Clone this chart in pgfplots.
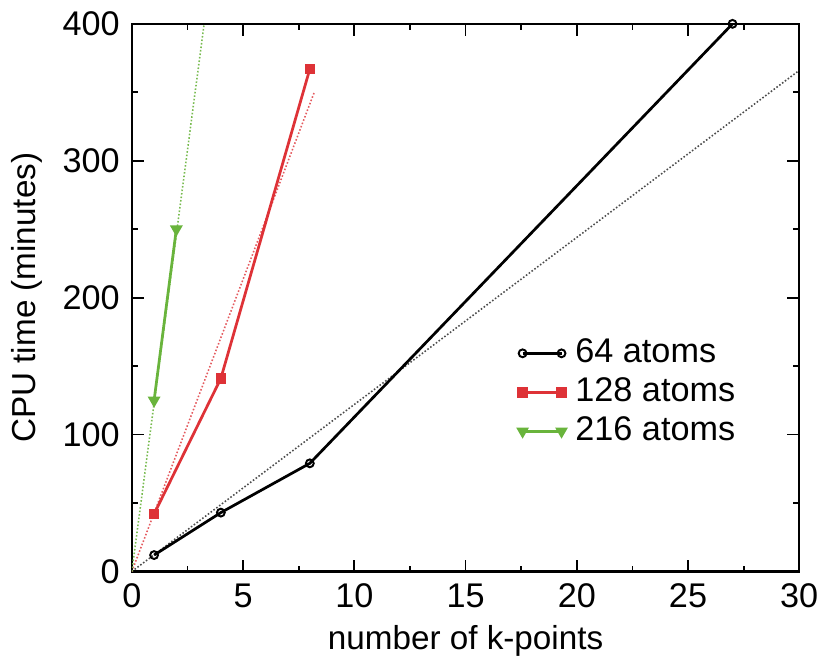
\documentclass[border=0pt]{standalone}
\usepackage{pgfplots}
\pgfplotsset{compat=1.18}
\usepackage{fontspec}
\setmainfont{Liberation Sans}
\definecolor{gred}{RGB}{222,50,55}
\definecolor{ggreen}{RGB}{105,180,60}
\begin{document}
\fontsize{18}{20}\selectfont
\begin{tikzpicture}
\begin{axis}[
  scale only axis,
  width=340bp, height=279bp,
  xmin=0, xmax=30, ymin=0, ymax=400,
  xtick={0,5,...,30}, ytick={0,100,...,400},
  minor x tick num=1, minor y tick num=1,
  tick align=inside,
  major tick length=6bp, minor tick length=3bp,
  every tick/.style={black, line width=0.9pt},
  axis line style={line width=1.2pt},
  tick label style={font=\fontsize{17.5}{20}\selectfont},
  label style={font=\fontsize{17}{19}\selectfont},
  /pgf/number format/assume math mode=true,
  xlabel={number of k-points},
  ylabel={CPU time (minutes)},
  xlabel style={yshift=3bp},
  ylabel style={yshift=-2bp},
  legend style={at={(0.57,0.44)}, anchor=north west, draw=none, fill=none,
    font=\fontsize{17.5}{20}\selectfont, row sep=1bp, column sep=3bp},
  legend cell align=left,
  legend image code/.code={
    \draw[mark repeat=2, mark phase=1, #1] plot coordinates {(0cm,0cm) (0.35cm,0cm) (0.7cm,0cm)};},
]
% ideal linear scaling guides
\addplot[densely dotted, black!70, line width=0.8pt, forget plot] coordinates {(0,0) (30,366)};
\addplot[densely dotted, gred!80, line width=0.8pt, forget plot] coordinates {(0,0) (8.2,350)};
\addplot[densely dotted, ggreen!90, line width=0.8pt, forget plot] coordinates {(0,0) (3.25,400)};

\addplot[black, line width=1.4pt, mark=o, mark size=2pt, mark options={line width=1pt}]
  coordinates {(1,12) (4,43) (8,79) (27,400)};
\addlegendentry{64 atoms}
\addplot[gred, line width=1.4pt, mark=square*, mark size=2pt]
  coordinates {(1,42) (4,141) (8,367)};
\addlegendentry{128 atoms}
\addplot[ggreen, line width=1.4pt, mark=triangle*, mark size=2.4pt, mark options={rotate=180}]
  coordinates {(1,125) (2,250)};
\addlegendentry{216 atoms}
\end{axis}
\end{tikzpicture}
\end{document}
